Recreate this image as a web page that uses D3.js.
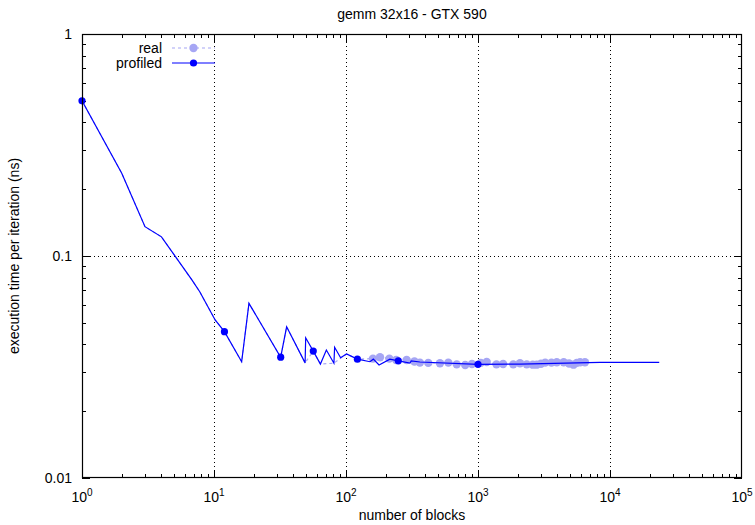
<!DOCTYPE html>
<html>
<head>
<meta charset="utf-8">
<script src="https://cdn.jsdelivr.net/npm/d3@7"></script>
<style>
  html, body { margin: 0; padding: 0; background: #fff; }
  svg { display: block; font-family: "Liberation Sans", Arial, Helvetica, sans-serif; }
</style>
</head>
<body>
<svg id="chart" width="755" height="525"></svg>
<script>
// ---------- data ----------
const title = "gemm 32x16 - GTX 590";
const xLabel = "number of blocks";
const yLabel = "execution time per iteration (ns)";
const seriesNames = ["real", "profiled"];

const xTickValues = [1, 10, 100, 1000, 10000, 100000];
const xTickExponents = ["0", "1", "2", "3", "4", "5"];
const yTickValues = [0.01, 0.1, 1];
const yTickLabels = ["0.01", "0.1", "1"];

// profiled series (solid line)
const profX = [1, 2, 3, 4, 6.8, 7.8, 10.2, 12, 16.2, 18.4, 32, 35.5, 49, 49.5, 56.5, 64, 71, 81, 82, 91, 101, 122, 152, 161, 178, 215, 249, 305, 312, 363, 1000, 2080, 8400, 23600];
const profY = [0.50, 0.236, 0.1355, 0.122, 0.078, 0.069, 0.0515, 0.0456, 0.0334, 0.0612, 0.035, 0.048, 0.033, 0.0428, 0.0373, 0.0326, 0.0377, 0.0329, 0.0388, 0.0348, 0.0362, 0.0343, 0.0334, 0.0343, 0.0323, 0.0343, 0.0337, 0.0329, 0.0337, 0.0333, 0.0325, 0.0326, 0.0332, 0.0332];
// profiled markers (shown every few points)
const profMarkX = [1, 12, 32, 56.5, 122, 249, 1000];
const profMarkY = [0.50, 0.0456, 0.035, 0.0373, 0.0343, 0.0337, 0.0325];

// real series (dashed line with markers)
const realX = [1, 2, 3, 4, 6.8, 7.8, 10.2, 12, 16.2, 18.4, 32, 35.5, 49, 56.5, 64, 81, 101, 122, 160, 181, 213, 240, 288, 330, 363, 420, 515, 596, 690, 800, 900, 1050, 1164, 1380, 1550, 1850, 2080, 2340, 2600, 2780, 3000, 3230, 3600, 3950, 4460, 4900, 5290, 5600, 5940, 6460];
const realY = [0.50, 0.236, 0.1355, 0.122, 0.078, 0.069, 0.0515, 0.0456, 0.0334, 0.0612, 0.035, 0.048, 0.033, 0.0373, 0.0326, 0.0329, 0.0362, 0.0343, 0.0345, 0.0350, 0.0345, 0.0340, 0.0340, 0.0335, 0.0331, 0.0330, 0.0329, 0.0331, 0.0325, 0.0323, 0.0326, 0.0330, 0.0333, 0.0325, 0.0326, 0.0325, 0.0329, 0.0325, 0.0324, 0.0324, 0.0327, 0.0331, 0.0331, 0.0332, 0.0332, 0.0328, 0.0324, 0.0330, 0.0332, 0.0332];
const realMarkFrom = 150; // markers drawn in the dense region

// ---------- layout ----------
const L = 82, R = 742, T = 34, B = 478;
const profColor = "#0000ff";
const realColor = "#a6a6f4";

const svg = d3.select("#chart");
const x = d3.scaleLog().domain([1, 1e5]).range([L, R]);
const y = d3.scaleLog().domain([0.01, 1]).range([B, T]);

// grid (dotted)
const grid = svg.append("g").attr("stroke", "#000").attr("stroke-width", 1).attr("stroke-dasharray", "1,3");
xTickValues.filter(v => v > 1 && v < 1e5).forEach(v => {
  const px = Math.round(x(v)) + 0.5;
  grid.append("line").attr("x1", px).attr("x2", px).attr("y1", T).attr("y2", B);
});
yTickValues.filter(v => v > 0.01 && v < 1).forEach(v => {
  const py = Math.round(y(v)) + 0.5;
  grid.append("line").attr("x1", L).attr("x2", R).attr("y1", py).attr("y2", py);
});

// ticks (major + minor, mirrored)
const ticks = svg.append("g").attr("stroke", "#000").attr("stroke-width", 1);
const majLen = 8, minLen = 4;
for (let d = 0; d < 5; d++) {
  for (let m = 1; m < 10; m++) {
    const v = m * Math.pow(10, d);
    const px = Math.round(x(v)) + 0.5;
    const len = m === 1 ? majLen : minLen;
    ticks.append("line").attr("x1", px).attr("x2", px).attr("y1", B).attr("y2", B - len);
    ticks.append("line").attr("x1", px).attr("x2", px).attr("y1", T).attr("y2", T + len);
  }
}
for (let d = -2; d < 0; d++) {
  for (let m = 1; m < 10; m++) {
    const v = m * Math.pow(10, d);
    const py = Math.round(y(v)) + 0.5;
    const len = m === 1 ? majLen : minLen;
    ticks.append("line").attr("x1", L).attr("x2", L + len).attr("y1", py).attr("y2", py);
    ticks.append("line").attr("x1", R).attr("x2", R - len).attr("y1", py).attr("y2", py);
  }
}

// tick labels
const fs = 14;
yTickValues.forEach((v, i) => {
  svg.append("text").attr("x", L - 10).attr("y", y(v)).attr("dy", "0.35em")
    .attr("text-anchor", "end").attr("font-size", fs).attr("fill", "#000").text(yTickLabels[i]);
});
xTickValues.forEach((v, i) => {
  const t = svg.append("text").attr("x", x(v)).attr("y", B + 24)
    .attr("text-anchor", "middle").attr("font-size", fs).attr("fill", "#000");
  t.append("tspan").text("10");
  t.append("tspan").attr("font-size", 10).attr("dy", -6).text(xTickExponents[i]);
});

// axis titles
svg.append("text").attr("x", (L + R) / 2).attr("y", 19).attr("text-anchor", "middle")
  .attr("font-size", fs).attr("fill", "#000").text(title);
svg.append("text").attr("x", (L + R) / 2).attr("y", B + 42).attr("text-anchor", "middle")
  .attr("font-size", fs).attr("fill", "#000").text(xLabel);
svg.append("text").attr("transform", `translate(19,${(T + B) / 2}) rotate(-90)`)
  .attr("text-anchor", "middle").attr("font-size", fs).attr("fill", "#000").text(yLabel);

// clip
svg.append("clipPath").attr("id", "clip").append("rect").attr("x", L).attr("y", T).attr("width", R - L).attr("height", B - T);
const plot = svg.append("g").attr("clip-path", "url(#clip)");

const line = d3.line().x(d => x(d[0])).y(d => y(d[1]));

// real series
const realData = realX.map((v, i) => [v, realY[i]]);
plot.append("path").datum(realData).attr("d", line).attr("fill", "none")
  .attr("stroke", realColor).attr("stroke-width", 1.2).attr("stroke-dasharray", "3,3");
plot.selectAll("circle.real").data(realData.filter(d => d[0] >= realMarkFrom)).join("circle")
  .attr("class", "real").attr("cx", d => x(d[0])).attr("cy", d => y(d[1])).attr("r", 4.2)
  .attr("fill", realColor);

// profiled series
const profData = profX.map((v, i) => [v, profY[i]]);
plot.append("path").datum(profData).attr("d", line).attr("fill", "none")
  .attr("stroke", profColor).attr("stroke-width", 1.2);
const profMarks = profMarkX.map((v, i) => [v, profMarkY[i]]);
svg.selectAll("circle.prof").data(profMarks).join("circle")
  .attr("class", "prof").attr("cx", d => x(d[0])).attr("cy", d => y(d[1])).attr("r", 3.6)
  .attr("fill", profColor);

// border
svg.append("rect").attr("x", L + 0.5).attr("y", T + 0.5).attr("width", R - L - 1).attr("height", B - T - 1)
  .attr("fill", "none").attr("stroke", "#000").attr("stroke-width", 1.2);

// legend
const legY = [48, 63];
const legColors = [realColor, profColor];
const legDash = ["3,3", null];
seriesNames.forEach((name, i) => {
  svg.append("text").attr("x", 162).attr("y", legY[i]).attr("dy", "0.35em").attr("text-anchor", "end")
    .attr("font-size", fs).attr("fill", "#000").text(name);
  svg.append("line").attr("x1", 172).attr("x2", 215).attr("y1", legY[i]).attr("y2", legY[i])
    .attr("stroke", legColors[i]).attr("stroke-width", 1.2).attr("stroke-dasharray", legDash[i]);
  svg.append("circle").attr("cx", 193.5).attr("cy", legY[i]).attr("r", i === 0 ? 4.2 : 3.6).attr("fill", legColors[i]);
});
</script>
</body>
</html>
